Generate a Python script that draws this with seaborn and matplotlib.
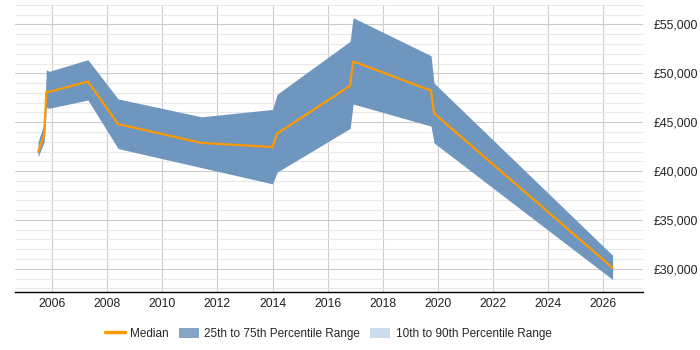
import matplotlib
matplotlib.use("Agg")
import matplotlib.pyplot as plt
import matplotlib.ticker as mticker
from matplotlib.patches import Patch
from matplotlib.lines import Line2D
import pandas as pd
import seaborn as sns

# Data
years = [2005.48, 2005.70, 2005.78, 2005.88, 2007.29, 2008.39, 2011.42,
         2014.00, 2014.17, 2016.82, 2016.93, 2019.76, 2019.87, 2026.36]
median = [41950, 43670, 48130, 48100, 49160, 44800, 42880,
          42460, 43840, 48720, 51220, 48230, 45900, 30100]
p75 = [43000, 44870, 50360, 50200, 51390, 47380, 45550,
       46300, 47860, 53280, 55690, 51800, 49000, 31380]
p25 = [41430, 42980, 46500, 46420, 47270, 42300, 40350,
       38690, 39890, 44360, 46860, 44600, 42880, 28900]
legend_labels = ["Median", "25th to 75th Percentile Range",
                 "10th to 90th Percentile Range"]

df = pd.DataFrame({"year": years, "median": median, "p25": p25, "p75": p75})

sns.set_style("white")
plt.rcParams['font.family'] = ['Liberation Sans', 'DejaVu Sans']

band_col = "#6f96be"
light_col = "#cddcec"
med_col = "#ff9900"

fig = plt.figure(figsize=(7, 3.5), dpi=100)
ax = fig.add_axes([0.021, 0.165, 0.897, 0.821])

# 25th-75th band, then the median on top
ax.fill_between(df["year"], df["p25"], df["p75"], color=band_col,
                linewidth=0, zorder=2)
sns.lineplot(data=df, x="year", y="median", ax=ax, color=med_col,
             linewidth=1.6, zorder=3, estimator=None, sort=False)

ax.set_xlim(2004.63, 2027.45)
ax.set_ylim(27600, 57000)
ax.xaxis.set_major_locator(mticker.MultipleLocator(2))
ax.yaxis.set_major_locator(mticker.MultipleLocator(5000))
ax.yaxis.set_minor_locator(mticker.MultipleLocator(1000))
ax.yaxis.set_major_formatter(mticker.FuncFormatter(lambda v, p: f"£{v:,.0f}"))
ax.yaxis.tick_right()

ax.grid(axis="x", which="major", color="#cccccc", linewidth=0.8, zorder=0)
ax.grid(axis="y", which="major", color="#cccccc", linewidth=0.8, zorder=0)
ax.grid(axis="y", which="minor", color="#e8e8e8", linewidth=0.8, zorder=0)
ax.set_axisbelow(True)

for s in ["top", "left", "right"]:
    ax.spines[s].set_visible(False)
ax.spines["bottom"].set_color("black")
ax.spines["bottom"].set_linewidth(1.0)
ax.tick_params(axis="both", which="both", length=0, labelsize=8.8, colors="#222222")
ax.tick_params(axis="y", pad=8)
ax.tick_params(axis="x", pad=4)
ax.set_xlabel("")
ax.set_ylabel("")

handles = [
    Line2D([0], [0], color=med_col, linewidth=2.5),
    Patch(facecolor="#86a4c6", edgecolor="none"),
    Patch(facecolor=light_col, edgecolor="none"),
]
fig.legend(handles, legend_labels, loc="center", bbox_to_anchor=(0.469, 0.046),
           ncol=3, frameon=False, fontsize=8.5, handlelength=1.7,
           handleheight=1.0, columnspacing=0.85, handletextpad=0.45)

fig.savefig("out.png", dpi=100)
